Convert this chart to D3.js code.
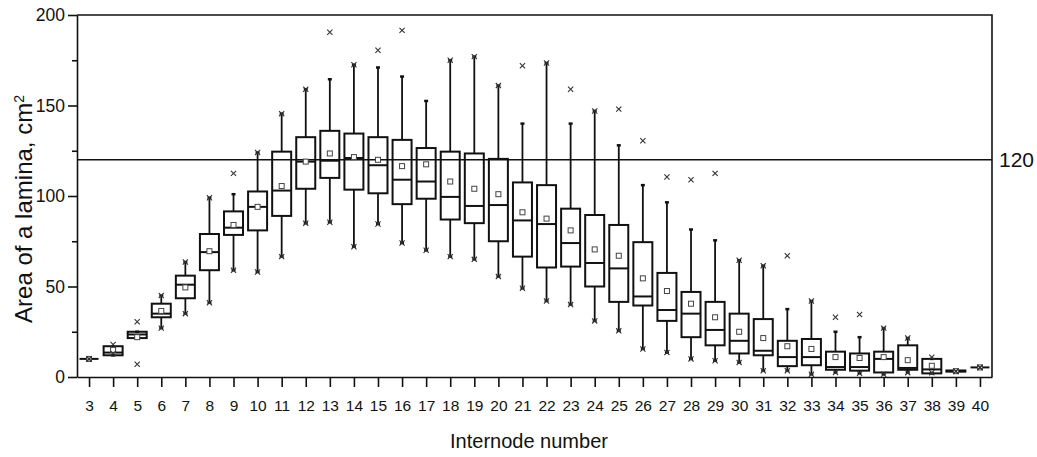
<!DOCTYPE html>
<html>
<head>
	<title> internode boxes </title>
	<script src="https://d3js.org/d3.v7.min.js"></script>
	<style>
		body { margin: 0; background: #fff; }
		text { font-family: "Liberation Sans", Arial, sans-serif; fill: #111; }
	</style>
</head>
<body>
	<div id="vis"></div>
	<script type="text/javascript">
		// internode numbers (categories)
		let internodes = [3, 4, 5, 6, 7, 8, 9, 10, 11, 12, 13, 14, 15, 16, 17, 18, 19, 20, 21,
			22, 23, 24, 25, 26, 27, 28, 29, 30, 31, 32, 33, 34, 35, 36, 37, 38, 39, 40];
		// box: 25th percentile, median, 75th percentile
		let q1 = [10, 12, 21.5, 33, 43.5, 59, 78.5, 81, 89, 104, 110, 103.5, 101.5, 95.5, 98.5, 87, 85, 75, 66.5,
			60.5, 61, 50, 41.5, 39.5, 31, 22, 17.5, 13, 12, 6, 6.5, 4, 3.5, 2.5, 4, 2, 3, 5.5];
		let median = [10, 13.5, 23.5, 35, 51, 69, 82.5, 94, 103, 119, 119.5, 121, 117, 109, 108, 99.5, 94.5, 95, 86.5,
			84.5, 74, 63, 60, 44.5, 37, 35, 26, 20, 14.5, 11, 11, 5.5, 5.5, 10, 5, 4.2, 3.2, 5.3];
		let q3 = [10, 17, 25, 40.5, 56, 79, 91.5, 102.5, 124.5, 132.5, 136, 134.5, 132.5, 131, 126.5, 124.5, 123.5, 120.5, 107.5,
			106, 93, 89.5, 84, 74.5, 57.5, 47, 41.5, 35, 32, 20, 21, 14, 13, 14, 17.5, 10, 3.6, 5.3];
		let mean = [10, 15, 22, 36.5, 49.5, 69.5, 84, 94, 105.5, 119, 123.5, 121.5, 120, 116.5, 117.5, 108, 104, 101, 91,
			87.5, 81, 70.5, 67, 54.5, 47.5, 40.5, 33, 25, 21.5, 17, 15.5, 11, 10.5, 11, 9.3, 6.2, 3.2, 5.3];
		// whiskers
		let whiskerLow = [10, 12, 21.5, 27, 35, 41, 59, 58, 66.5, 85, 85.5, 72, 84.5, 74, 70, 66.5, 65, 55.5, 49,
			42, 40, 31, 25.5, 15.5, 13.5, 10, 9, 8, 3.5, 3.5, 1.5, 2.5, 2, 1.5, 2.4, 2, 3.2, 5.3];
		let whiskerHigh = [10, 17, 25, 45, 63.5, 99, 101, 124, 145.5, 159, 164.5, 172.5, 171, 166, 152.5, 175, 177, 161, 140,
			173.5, 140, 147, 128, 106, 96.5, 81.5, 75.5, 64.5, 61.5, 37.5, 42, 25, 22, 27, 21.5, 10, 3.2, 5.3];
		// 1% / 99% markers (x)
		let markLow = [10, 13, 7, 27, 35, 41, 59, 58, 66.5, 85, 85.5, 72, 84.5, 74, 70, 66.5, 65, 55.5, 49,
			42, 40, 31, 25.5, 15.5, 13.5, 10, 9, 8, 3.5, 3.5, 1.5, 2.5, 2, 1.5, 2.4, 2.4, 3.2, 5.3];
		let markHigh = [10, 18, 30.5, 45, 63.5, 99, 112.5, 124, 145.5, 159, 190.5, 172.5, 180.5, 191.5, null, 175, 177, 161, 172,
			173.5, 159, 147, 148, 130.5, 110.5, 109, 112.5, 64.5, 61.5, 67, 42, 33, 34.5, 27, 21.5, 10.9, 3.2, 5.3];
		let yTicks = [0, 50, 100, 150, 200];
		let yMinor = [25, 75, 125, 175];
		let refLine = 120;

		let svg = d3.select("#vis").append("svg").attr("width", 1037).attr("height", 457);
		let x = d3.scaleLinear().domain([2.5, 40.5]).range([77, 992]);
		let y = d3.scaleLinear().domain([0, 200]).range([377, 15]);
		let boxW = 19;

		// axes
		let xAxis = svg.append("g").attr("transform", "translate(0,377)")
			.call(d3.axisBottom(x).tickValues(internodes).tickFormat(d3.format("d")).tickSize(10).tickSizeOuter(0).tickPadding(13));
		xAxis.selectAll("text").style("font-size", "15.5px");
		let yAxis = svg.append("g").attr("transform", "translate(77,0)")
			.call(d3.axisLeft(y).tickValues(yTicks).tickSize(9).tickSizeOuter(0).tickPadding(3));
		yAxis.selectAll("text").style("font-size", "17.5px");
		svg.append("g").attr("transform", "translate(77,0)")
			.call(d3.axisLeft(y).tickValues(yMinor).tickSize(5).tickSizeOuter(0).tickFormat(""))
			.select(".domain").remove();
		svg.selectAll(".domain, .tick line").attr("stroke", "#111").attr("stroke-width", 1.6);

		// frame top / right
		svg.append("path")
			.attr("d", "M" + x(2.5) + "," + y(200) + "H" + x(40.5) + "V" + y(0))
			.attr("fill", "none").attr("stroke", "#111").attr("stroke-width", 1.6);

		// reference line
		svg.append("line")
			.attr("x1", x(2.5)).attr("x2", x(40.5))
			.attr("y1", y(refLine)).attr("y2", y(refLine))
			.attr("stroke", "#111").attr("stroke-width", 1.6);
		svg.append("text").attr("x", x(40.5) + 7).attr("y", y(refLine) + 7)
			.style("font-size", "21px").text(refLine);

		// boxes
		let g = svg.selectAll("g.box").data(internodes).enter().append("g").attr("class", "box");
		g.append("line")
			.attr("x1", d => x(d)).attr("x2", d => x(d))
			.attr("y1", (d, i) => y(whiskerHigh[i])).attr("y2", (d, i) => y(q3[i]))
			.attr("stroke", "#111").attr("stroke-width", 1.8);
		g.append("line")
			.attr("x1", d => x(d)).attr("x2", d => x(d))
			.attr("y1", (d, i) => y(q1[i])).attr("y2", (d, i) => y(whiskerLow[i]))
			.attr("stroke", "#111").attr("stroke-width", 1.8);
		// whisker caps
		[whiskerLow, whiskerHigh].forEach(arr => {
			g.append("line")
				.attr("x1", d => x(d) - 2).attr("x2", d => x(d) + 2)
				.attr("y1", (d, i) => y(arr[i])).attr("y2", (d, i) => y(arr[i]))
				.attr("stroke", "#111").attr("stroke-width", 2.5);
		});
		g.append("rect")
			.attr("x", d => x(d) - boxW / 2).attr("width", boxW)
			.attr("y", (d, i) => y(q3[i]))
			.attr("height", (d, i) => y(q1[i]) - y(q3[i]))
			.attr("fill", "none").attr("stroke", "#111")
			.attr("stroke-width", (d, i) => q3[i] - q1[i] < 1 && d != 39 ? 1.5 : 2);
		g.append("line")
			.attr("x1", d => x(d) - boxW / 2).attr("x2", d => x(d) + boxW / 2)
			.attr("y1", (d, i) => y(median[i])).attr("y2", (d, i) => y(median[i]))
			.attr("stroke", "#111").attr("stroke-width", 2);
		g.append("rect")
			.attr("x", d => x(d) - 2.5).attr("y", (d, i) => y(mean[i]) - 2.5)
			.attr("width", 5).attr("height", 5)
			.attr("fill", "#fff").attr("stroke", "#444").attr("stroke-width", 1);
		// 1% / 99% marks
		[markLow, markHigh].forEach(arr => {
			g.filter((d, i) => arr[i] !== null).append("path")
				.attr("transform", d => {
					let i = internodes.indexOf(d);
					return "translate(" + x(d) + "," + y(arr[i]) + ")";
				})
				.attr("d", "M-2.6,-2.6L2.6,2.6M-2.6,2.6L2.6,-2.6")
				.attr("stroke", "#333").attr("stroke-width", 1.1);
		});

		// axis titles
		svg.append("text").attr("x", 529).attr("y", 448)
			.attr("text-anchor", "middle").style("font-size", "20px")
			.text("Internode number");
		let yt = svg.append("text")
			.attr("transform", "translate(32,209) rotate(-90)")
			.attr("text-anchor", "middle").style("font-size", "24px");
		yt.append("tspan").text("Area of a lamina, cm");
		yt.append("tspan").attr("dy", "-0.55em").style("font-size", "14px").text("2");
	</script>
</body>
</html>
